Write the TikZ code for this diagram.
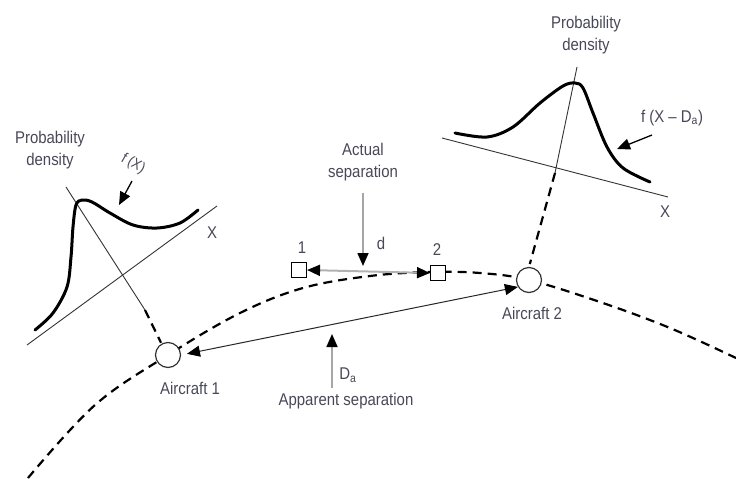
\documentclass[tikz,border=0pt]{standalone}
\usepackage{fontspec}
\setmainfont{Liberation Sans}[FakeStretch=0.88]
\usetikzlibrary{arrows.meta}
\definecolor{txt}{RGB}{72,72,88}
\tikzset{
  lbl/.style={text=txt, font=\fontsize{17}{22}\selectfont, align=center, inner sep=0pt},
  thick curve/.style={line width=3pt, line cap=round, black},
  thin axis/.style={line width=0.9pt, black!80},
  traj/.style={line width=2.2pt, dash pattern=on 9pt off 6pt, black},
  tipk/.style={-{Triangle[length=13pt,width=11pt,color=black]}},
  tipkk/.style={{Triangle[length=13pt,width=11pt,color=black]}-{Triangle[length=13pt,width=11pt,color=black]}},
  aircraft/.style={circle, draw=black!80, line width=1.2pt, fill=white, minimum size=25pt, inner sep=0pt},
  posbox/.style={rectangle, draw=black, line width=1.1pt, fill=white, minimum size=15pt, inner sep=0pt},
}
\begin{document}
\begin{tikzpicture}[x=1pt,y=-1pt]
\useasboundingbox (0,0) rectangle (736,479);
% trajectory
\draw[traj] plot[smooth, tension=0.6] coordinates {(28,478) (95,405) (168,355) (240,313) (303,288) (370,276) (430,272) (480,273) (529,280) (600,302) (670,328) (736,358)};
% aircraft and positions
\node[aircraft] (a1) at (168,355) {};
\node[aircraft] (a2) at (529,280) {};
\node[posbox] (s1) at (299,270) {};
\node[posbox] (s2) at (438,273) {};
\node[lbl] (l1) at (302,248) {1};
\node[lbl] (l2) at (437,250) {2};
\node[lbl] (ac1) at (190,388) {Aircraft 1};
\node[lbl] (ac2) at (532,313) {Aircraft 2};
% actual separation
\node[lbl] (act) at (363,162) {Actual\\separation};
\coordinate (actS) at (363,193);
\coordinate (actT) at (363,266);
\draw[tipk, line width=1.6pt, gray!70] (actS) -- (actT);
\node[lbl] (d) at (381,243) {d};
\draw[tipkk, line width=2pt, gray!60] (s1.east) -- (s2.west);
% apparent separation
\draw[tipkk, line width=1pt, black!85, shorten <=6pt] (a1.east) -- (a2.-148);
\coordinate (appS) at (332,388);
\coordinate (appT) at (332,334);
\draw[tipk, line width=1.6pt, gray!70] (appS) -- (appT);
\node[lbl] (Da) at (348,375) {D\textsubscript{a}};
\node[lbl] (app) at (346,401) {Apparent separation};
% left density
\node[lbl] (pd1) at (50,150) {Probability\\density};
\coordinate (xl1) at (27,345);
\coordinate (xl2) at (217,206);
\draw[thin axis] (xl1) -- (xl2);
\node[lbl] (X1) at (212,233) {X};
\coordinate (vl1) at (66,187);
\coordinate (vl2) at (145,310);
\draw[thin axis] (vl1) -- (vl2);
\draw[traj, shorten >=1pt] (vl2) -- (a1.120);
\draw[thick curve] plot[smooth, tension=0.55] coordinates {(35,330) (53,313) (67,287) (71,257) (73,227) (76,205) (82,200) (92,202) (110,213) (133,225) (157,228) (180,223) (198,210)};
\node[lbl, rotate=-30, font=\fontsize{15}{18}\selectfont] (fx) at (133,164) {f (X)};
\coordinate (fxS) at (132,181);
\coordinate (fxT) at (119,205);
\draw[tipk, line width=1.3pt, black] (fxS) -- (fxT);
% right density
\node[lbl] (pd2) at (586,35) {Probability\\density};
\coordinate (xr1) at (442,138);
\coordinate (xr2) at (668,197);
\draw[thin axis] (xr1) -- (xr2);
\node[lbl] (X2) at (665,212) {X};
\coordinate (vr1) at (577,67);
\coordinate (vr2) at (555,173);
\draw[thin axis] (vr1) -- (vr2);
\draw[traj, shorten >=3pt] (vr2) -- (a2.north);
\draw[thick curve] plot[smooth, tension=0.55] coordinates {(455,133) (487,137) (513,127) (540,103) (563,86) (575,83) (583,88) (593,113) (607,147) (623,168) (650,182)};
\node[lbl] (fxd) at (672,118) {f (X – D\textsubscript{a})};
\coordinate (fdS) at (652,135);
\coordinate (fdT) at (617,149);
\draw[tipk, line width=1.3pt, black] (fdS) -- (fdT);
\end{tikzpicture}
\end{document}
